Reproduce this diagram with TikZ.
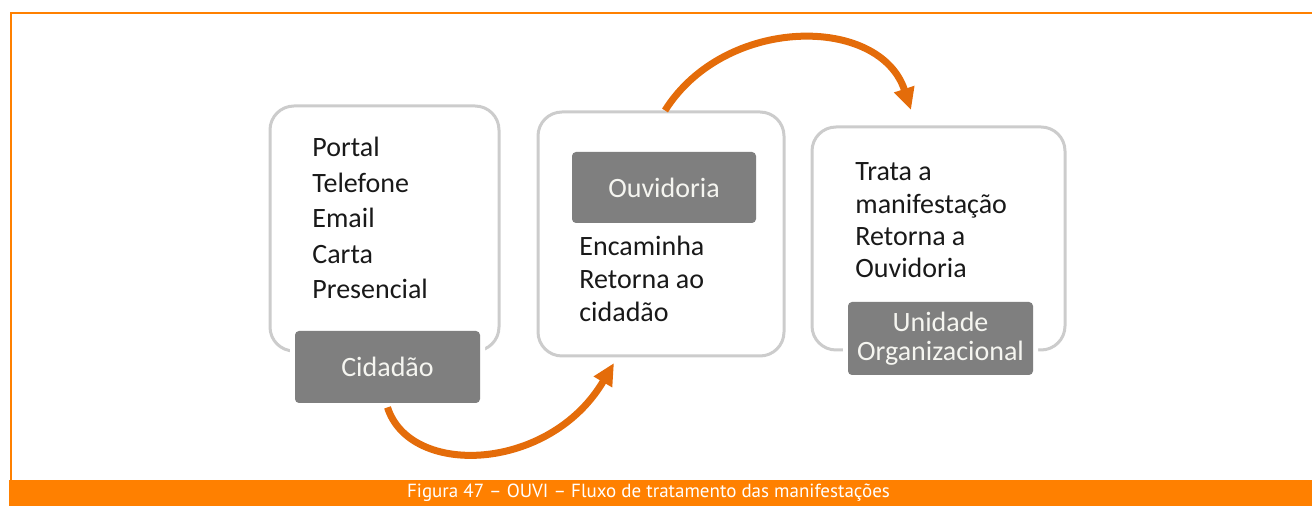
\documentclass[tikz,border=0pt]{standalone}
\usepackage{fontspec}
\setmainfont{Carlito}
\newfontfamily\capfont{PT Sans}
\usetikzlibrary{arrows.meta}
\definecolor{frameor}{RGB}{255,128,0}
\definecolor{arrowor}{RGB}{228,108,10}
\definecolor{boxgray}{RGB}{127,127,127}
\definecolor{bordergray}{RGB}{204,204,204}
\definecolor{txt}{RGB}{25,25,25}
\definecolor{graytxt}{RGB}{245,245,240}
\begin{document}
\begin{tikzpicture}[x=0.5pt,y=-0.5pt,
  whitebox/.style={draw=bordergray,line width=1.5pt,rounded corners=12pt,fill=white,inner sep=0pt},
  graybox/.style={fill=boxgray,rounded corners=2pt,text=graytxt,inner sep=0pt,align=center,
    font=\fontsize{14pt}{14.5pt}\selectfont,
    preaction={draw=white,line width=5pt,rounded corners=2pt}},
  listtext/.style={anchor=base west,align=left,inner sep=0pt,text=txt},
  flowarrow/.style={draw=arrowor,line width=3.5pt,-{Triangle[length=11pt,width=10pt]}}]
\useasboundingbox (0,0) rectangle (1312,506);
% frame
\draw[frameor,line width=1.25pt] (1312,13) -- (11,13) -- (11,480);
\fill[frameor] (9,480) rectangle (1312,506);
\node[text=white,inner sep=0pt,anchor=base,font=\capfont\fontsize{9.5pt}{10pt}\selectfont] (cap) at (648.5,498)
  {Figura 47 – OUVI – Fluxo de tratamento das manifestações};
% white boxes
\node[whitebox,minimum width=114.5pt,minimum height=122.5pt] (b1) at (384.5,228.5) {};
\node[whitebox,minimum width=123pt,minimum height=122pt] (b2) at (661,234) {};
\node[whitebox,minimum width=126.5pt,minimum height=111.5pt] (b3) at (938.5,238.5) {};
% list texts (anchored at the baseline of their last line)
\node[listtext,font=\fontsize{14pt}{17.75pt}\selectfont] (t1) at (312,299)
  {Portal\\Telefone\\Email\\Carta\\Presencial};
\node[listtext,font=\fontsize{14pt}{16.5pt}\selectfont] (t2) at (579,322)
  {Encaminha\\Retorna ao\\cidadão};
\node[listtext,font=\fontsize{14pt}{16.2pt}\selectfont] (t3) at (855,278)
  {Trata a\\manifestação\\Retorna a\\Ouvidoria};
% gray boxes
\node[graybox,minimum width=92.5pt,minimum height=36pt] (cid) at (387.5,367) {Cidadão};
\node[graybox,minimum width=92pt,minimum height=35.5pt] (ouv) at (664,187.5) {Ouvidoria};
\node[graybox,minimum width=92.5pt,minimum height=36.5pt] (uni) at (940.5,338.5) {Unidade\\Organizacional};
% arrows
\coordinate (a1e) at (614,363);
\coordinate (a2e) at (911,110);
\draw[flowarrow] ([yshift=-2pt]cid.south) .. controls (410,478) and (550,472) .. (a1e);
\draw[flowarrow] ([xshift=2pt]b2.north) .. controls (725,15) and (880,15) .. (a2e);
\end{tikzpicture}
\end{document}
